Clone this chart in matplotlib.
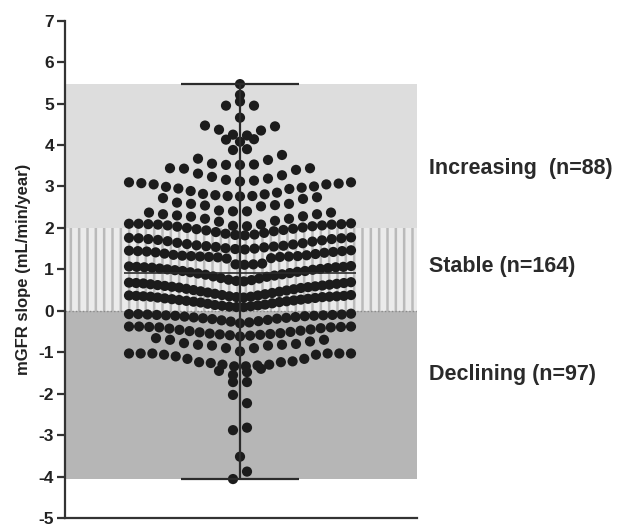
import numpy as np
import matplotlib
matplotlib.use("Agg")
import matplotlib.pyplot as plt

# ---- data: mGFR slope values (mL/min/year), listed row by row (left -> right) ----
increasing_rows = [
    [5.47],
    [5.21],
    [4.95, 5.05, 4.95],
    [4.66],
    [4.47, 4.37, 4.25, 4.23, 4.35, 4.45],
    [4.13, 4.08, 4.14],
    [3.88, 3.90],
    [3.44, 3.43, 3.67, 3.55, 3.52, 3.52, 3.53, 3.64, 3.76, 3.40, 3.44],
    [3.31, 3.23, 3.16, 3.12, 3.14, 3.19, 3.27],
    [3.10, 3.08, 3.05, 2.99, 2.95, 2.89, 2.82, 2.79, 2.77, 2.76, 2.77, 2.81, 2.85, 2.94, 2.97, 3.00, 3.05, 3.07, 3.10],
    [2.72, 2.61, 2.58, 2.54, 2.42, 2.40, 2.40, 2.52, 2.55, 2.58, 2.70, 2.74],
    [2.37, 2.33, 2.30, 2.27, 2.22, 2.15, 2.05, 2.04, 2.08, 2.17, 2.22, 2.28, 2.33, 2.37],
]

stable_rows = [
    [2.10, 2.10, 2.09, 2.08, 2.06, 2.03, 2.00, 1.97, 1.94, 1.90, 1.86, 1.83,
     1.82, 1.84, 1.88, 1.92, 1.95, 1.98, 2.01, 2.04, 2.06, 2.08, 2.09, 2.11],
    [1.76, 1.75, 1.73, 1.71, 1.68, 1.64, 1.61, 1.58, 1.56, 1.54, 1.51, 1.49,
     1.48, 1.50, 1.53, 1.55, 1.57, 1.60, 1.63, 1.67, 1.70, 1.73, 1.75, 1.77],
    [1.45, 1.44, 1.43, 1.41, 1.38, 1.35, 1.33, 1.32, 1.31, 1.30, 1.29, 1.26, 1.12,
     1.11, 1.12, 1.14, 1.27, 1.30, 1.31, 1.32, 1.34, 1.37, 1.40, 1.42, 1.44, 1.46],
    [1.07, 1.06, 1.05, 1.04, 1.02, 1.00, 0.98, 0.96, 0.93, 0.90, 0.87, 0.83, 0.79, 0.75, 0.72,
     0.71, 0.74, 0.78, 0.82, 0.85, 0.88, 0.91, 0.94, 0.96, 0.99, 1.01, 1.03, 1.05, 1.06, 1.08],
    [0.68, 0.67, 0.66, 0.64, 0.62, 0.60, 0.58, 0.56, 0.53, 0.50, 0.47, 0.44, 0.41, 0.38, 0.35, 0.33,
     0.32, 0.34, 0.37, 0.40, 0.43, 0.46, 0.49, 0.52, 0.55, 0.57, 0.59, 0.61, 0.63, 0.65, 0.67, 0.69],
    [0.37, 0.36, 0.35, 0.34, 0.32, 0.30, 0.28, 0.26, 0.24, 0.22, 0.20, 0.17, 0.14, 0.12, 0.10, 0.09,
     0.09, 0.11, 0.13, 0.15, 0.18, 0.21, 0.23, 0.25, 0.27, 0.29, 0.31, 0.33, 0.34, 0.35, 0.36, 0.38],
]

declining_rows = [
    [-0.08, -0.08, -0.09, -0.10, -0.11, -0.12, -0.14, -0.16, -0.18, -0.20, -0.23, -0.26, -0.30,
     -0.28, -0.25, -0.22, -0.19, -0.17, -0.15, -0.13, -0.12, -0.11, -0.10, -0.09, -0.07],
    [-0.38, -0.38, -0.39, -0.40, -0.43, -0.46, -0.49, -0.52, -0.55, -0.57, -0.59, -0.62,
     -0.60, -0.58, -0.56, -0.54, -0.51, -0.48, -0.45, -0.42, -0.40, -0.39, -0.38],
    [-0.66, -0.70, -0.78, -0.82, -0.84, -0.90, -0.98, -0.90, -0.84, -0.82, -0.80, -0.74, -0.70],
    [-1.03, -1.03, -1.03, -1.06, -1.10, -1.16, -1.24, -1.26, -1.30, -1.34,
     -1.34, -1.32, -1.30, -1.24, -1.22, -1.16, -1.06, -1.03, -1.03, -1.03],
    [-1.45, -1.55, -1.48, -1.40],
    [-1.72, -1.72],
    [-2.03, -2.23],
    [-2.88, -2.82],
    [-3.52],
    [-4.06, -3.88],
]

stable_low, stable_high = 0.0, 2.0
y_ticks = list(range(-5, 8))
y_label = "mGFR slope (mL/min/year)"
group_labels = ["Increasing  (n=88)", "Stable (n=164)", "Declining (n=97)"]

# ---- layout (pixel-like x units centred on the column) ----
NATURAL_GAP = 14.0
MAX_SPAN = 222.0

xs, ys = [], []
for row in increasing_rows + stable_rows + declining_rows:
    n = len(row)
    gap = NATURAL_GAP if n < 2 else min(NATURAL_GAP, MAX_SPAN / (n - 1))
    for i, v in enumerate(row):
        xs.append((i - (n - 1) / 2.0) * gap)
        ys.append(v)
xs = np.array(xs)
ys = np.array(ys)
vmin, vmax, vmed = ys.min(), ys.max(), np.median(ys)

plt.rcParams['font.family'] = ['Liberation Sans', 'DejaVu Sans']
plt.rcParams['hatch.linewidth'] = 1.8
fig = plt.figure(figsize=(6.17, 5.32), dpi=100)
ax = fig.add_axes([65 / 617, 14 / 532, 352 / 617, 497.3 / 532])
ax.set_xlim(-175, 177)
ax.set_ylim(-5, 7)

# background bands
ax.axhspan(stable_high, vmax, facecolor='#dddddd', edgecolor='none', zorder=0)
ax.axhspan(stable_low, stable_high, facecolor='#ebebeb', edgecolor='#bababa',
           hatch='||', linewidth=0, zorder=0)
ax.axhspan(vmin, stable_low, facecolor='#b6b6b6', edgecolor='none', zorder=0)
ax.axhline(stable_low, color='#8a8a8a', lw=1.0, linestyle=(0, (1, 1.5)), zorder=1)

# points
ax.scatter(xs, ys, s=54, color='#1c1c1c', edgecolors='none', zorder=2)

# median with range
lc = '#2b2b2b'
ax.vlines(0, vmin, vmax, color=lc, lw=1.6, zorder=3)
ax.hlines([vmin, vmax], -59, 59, color=lc, lw=1.6, zorder=3)
ax.hlines(vmed, -116, 116, color=lc, lw=1.2, zorder=3)

# axes styling
for s in ['top', 'right']:
    ax.spines[s].set_visible(False)
for s in ['left', 'bottom']:
    ax.spines[s].set_color('#333333')
    ax.spines[s].set_linewidth(1.6)
ax.set_xticks([])
ax.set_yticks(y_ticks)
ax.set_yticklabels([str(t) for t in y_ticks], fontsize=12.5, fontweight='bold', color='#222222')
ax.tick_params(axis='y', direction='out', length=6, width=1.6, color='#333333', pad=2)
ax.set_ylabel(y_label, fontsize=12, fontweight='bold', color='#222222', labelpad=5)

label_y = [3.44, 1.07, -1.54]
for txt, yy in zip(group_labels, label_y):
    ax.text(189, yy, txt, fontsize=15.5, fontweight='bold', color='#2a2a2a',
            va='center', ha='left', clip_on=False)

fig.savefig('out.png', dpi=100)
